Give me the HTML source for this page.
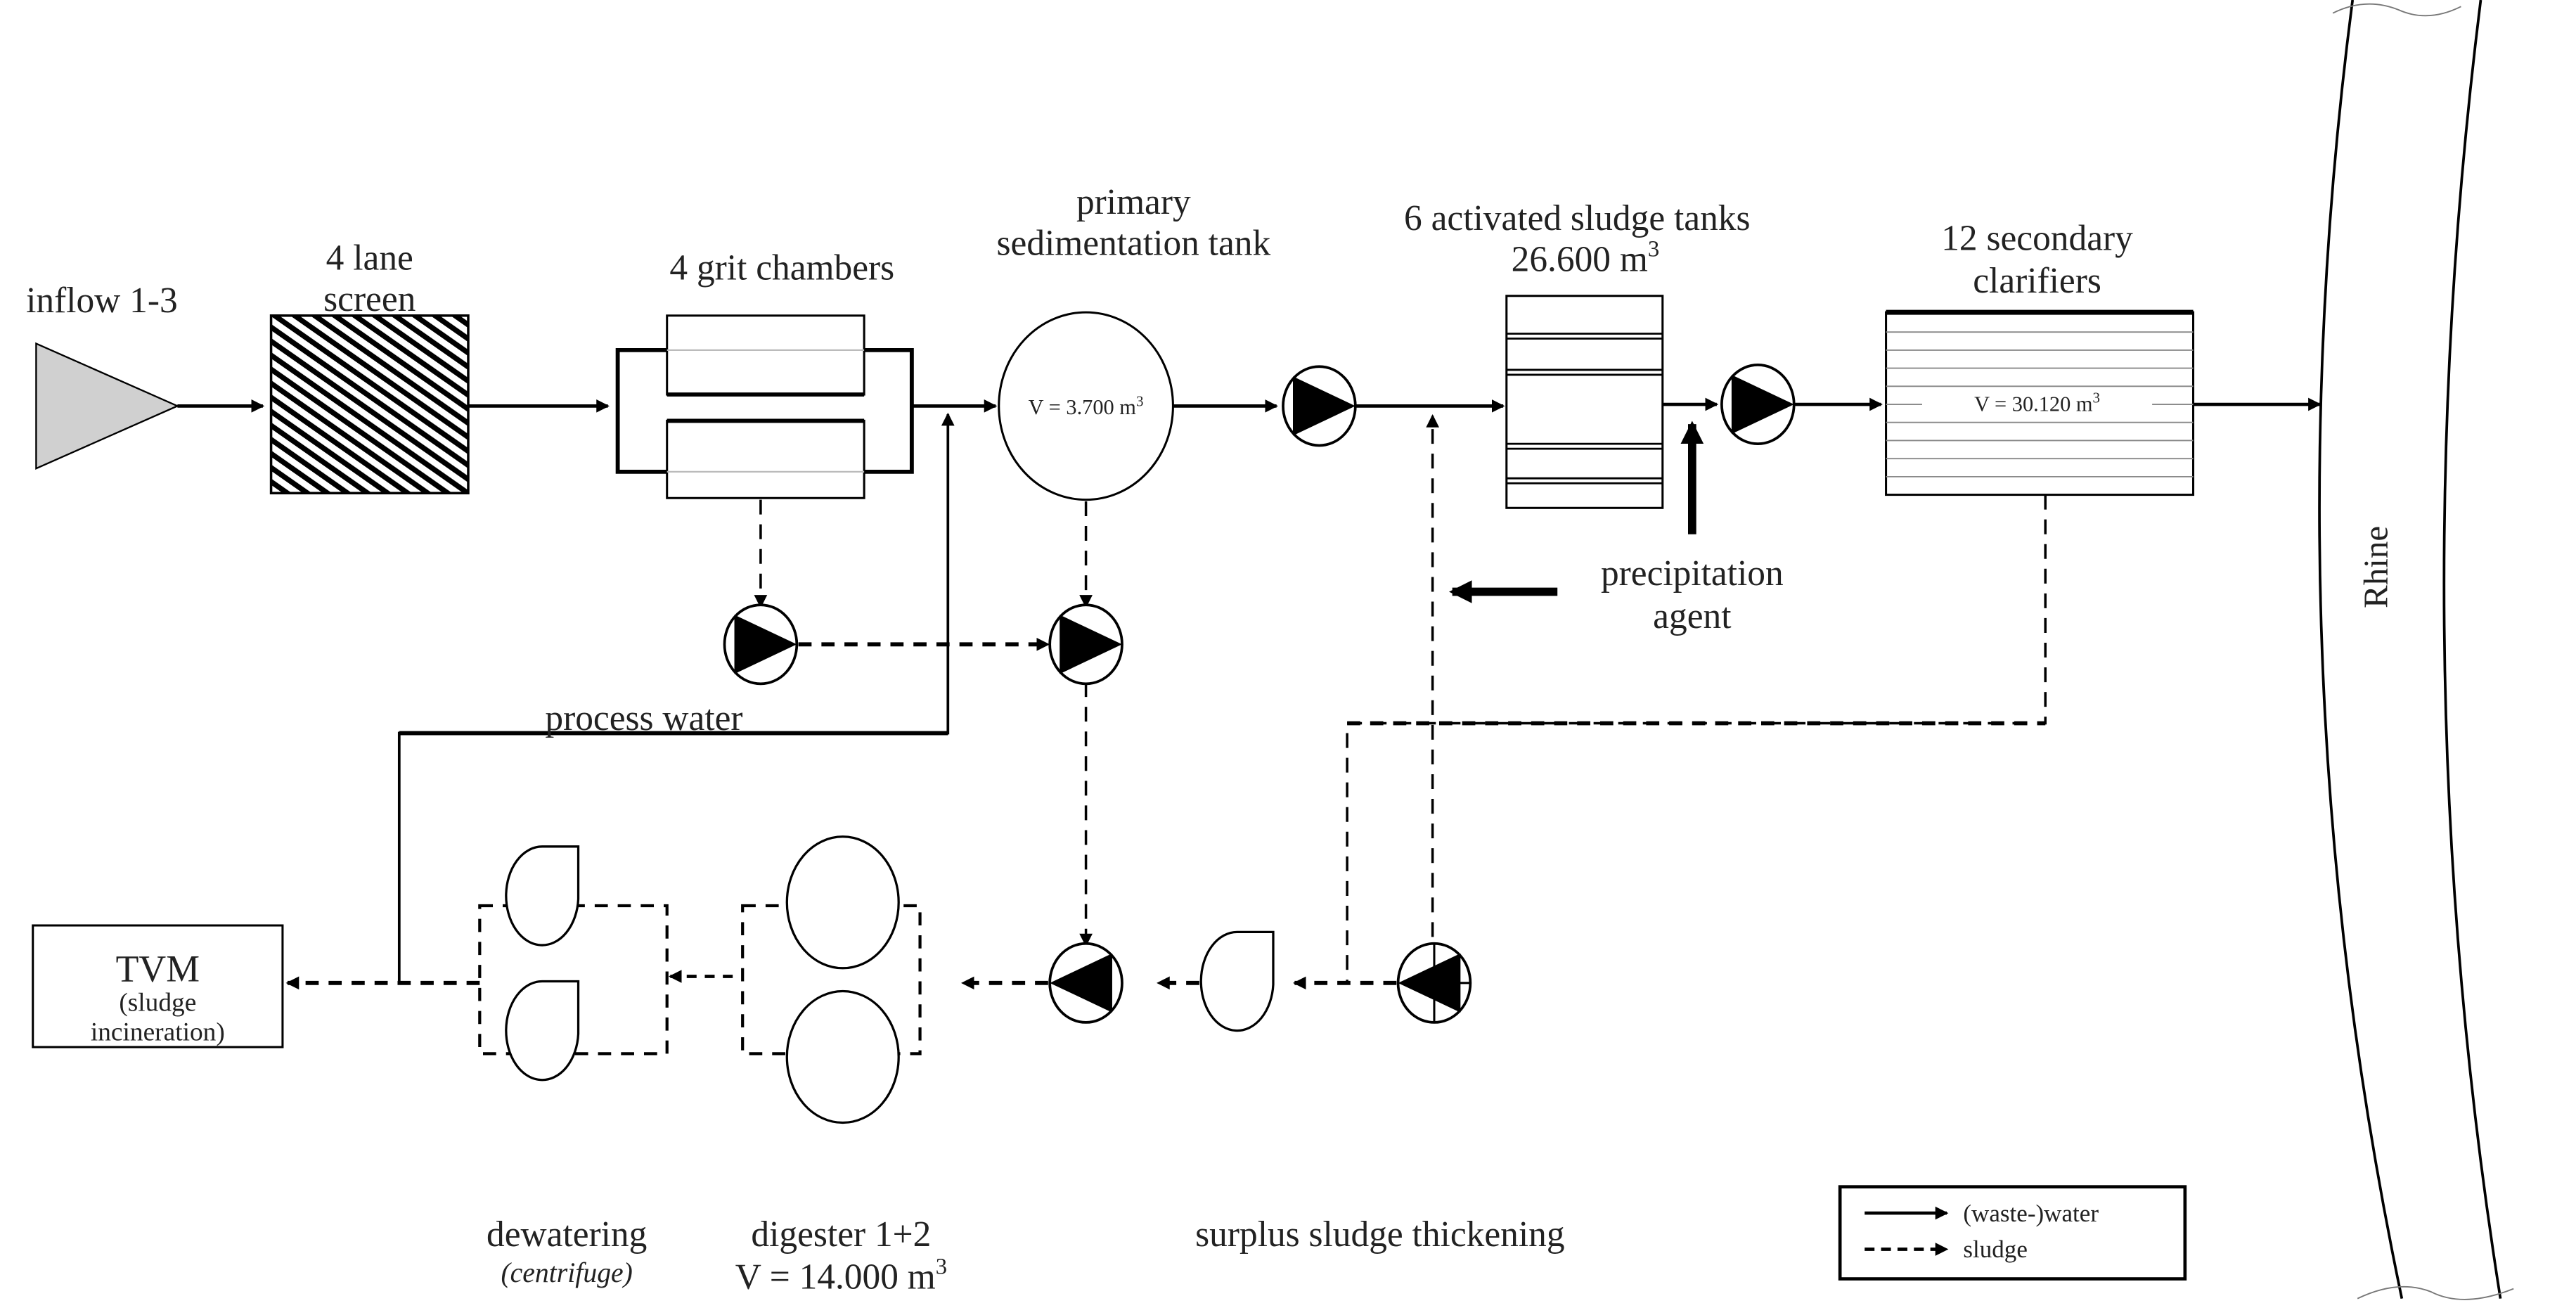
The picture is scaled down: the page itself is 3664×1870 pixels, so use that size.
<!DOCTYPE html>
<html><head><meta charset="utf-8"><style>
html,body{margin:0;padding:0;background:#fff;}
svg{display:block;}
text{font-family:"Liberation Serif",serif;fill:#222;}
</style></head><body>
<svg width="3664" height="1870" viewBox="0 0 1568 800" preserveAspectRatio="none" xmlns="http://www.w3.org/2000/svg">
<defs>
<marker id="ah" markerWidth="8" markerHeight="8" refX="7" refY="4" orient="auto" markerUnits="userSpaceOnUse"><path d="M0,0 L8,4 L0,8 Z" fill="#000"/></marker>
<marker id="ahb" markerWidth="14" markerHeight="14" refX="12" refY="7" orient="auto" markerUnits="userSpaceOnUse"><path d="M0,0 L14,7 L0,14 Z" fill="#000"/></marker>
<pattern id="hatch" width="7" height="7" patternUnits="userSpaceOnUse" patternTransform="rotate(-55)"><rect width="7" height="7" fill="#fff"/><rect width="3.2" height="7" fill="#000"/></pattern>
</defs>
<g stroke="#000" fill="none" stroke-width="1.5">
<polygon points="22,209 108,247 22,285" fill="#d0d0d0" stroke-width="1"/>
<line x1="108" y1="247" x2="160" y2="247" stroke-width="2" marker-end="url(#ah)"/>
<rect x="165" y="192" width="120" height="108" fill="url(#hatch)" stroke-width="1.5"/>
<line x1="285" y1="247" x2="370" y2="247" stroke-width="2" marker-end="url(#ah)"/>
<path d="M406,213 H376 V287 H406 M526,213 H555 V287 H526" stroke-width="2.5"/>
<rect x="406" y="192" width="120" height="48" stroke-width="1.3"/>
<line x1="406" y1="240" x2="526" y2="240" stroke-width="2.5"/>
<rect x="406" y="256" width="120" height="47" stroke-width="1.3"/>
<line x1="406" y1="256" x2="526" y2="256" stroke-width="2.5"/>
<line x1="406" y1="213" x2="526" y2="213" stroke="#bbb" stroke-width="1"/>
<line x1="406" y1="287" x2="526" y2="287" stroke="#bbb" stroke-width="1"/>
<line x1="555" y1="247" x2="606" y2="247" stroke-width="2" marker-end="url(#ah)"/>
<ellipse cx="661" cy="247" rx="53" ry="57" stroke-width="1.3"/>
<line x1="714" y1="247" x2="777" y2="247" stroke-width="2" marker-end="url(#ah)"/>
<path d="M243,598 V446 H577 V252" stroke-width="1.6" marker-end="url(#ah)"/>
<line x1="243" y1="446" x2="577" y2="446" stroke-width="2.5"/>
<line x1="825" y1="247" x2="915" y2="247" stroke-width="2" marker-end="url(#ah)"/>
<line x1="872" y1="600" x2="872" y2="253" stroke-dasharray="9,6" marker-end="url(#ah)"/>
<rect x="917" y="180" width="95" height="129" stroke-width="1.3"/>
<g stroke-width="1.2"><line x1="917" y1="203" x2="1012" y2="203"/><line x1="917" y1="206" x2="1012" y2="206"/>
<line x1="917" y1="225" x2="1012" y2="225"/><line x1="917" y1="228" x2="1012" y2="228"/>
<line x1="917" y1="270" x2="1012" y2="270"/><line x1="917" y1="273" x2="1012" y2="273"/>
<line x1="917" y1="291" x2="1012" y2="291"/><line x1="917" y1="294" x2="1012" y2="294"/></g>
<line x1="1012" y1="246" x2="1045" y2="246" stroke-width="2" marker-end="url(#ah)"/>
<line x1="1030" y1="325" x2="1030" y2="258" stroke-width="5" marker-end="url(#ahb)"/>
<line x1="1092" y1="246" x2="1145" y2="246" stroke-width="2" marker-end="url(#ah)"/>
<rect x="1148" y="190" width="187" height="111" stroke-width="1.3"/>
<line x1="1148" y1="190" x2="1335" y2="190" stroke-width="3"/>
<g stroke="#888" stroke-width="0.8">
<line x1="1148" y1="202" x2="1335" y2="202"/><line x1="1148" y1="213" x2="1335" y2="213"/><line x1="1148" y1="224" x2="1335" y2="224"/><line x1="1148" y1="235" x2="1335" y2="235"/>
<line x1="1148" y1="257" x2="1335" y2="257"/><line x1="1148" y1="268" x2="1335" y2="268"/><line x1="1148" y1="279" x2="1335" y2="279"/><line x1="1148" y1="290" x2="1335" y2="290"/></g>
<line x1="1148" y1="246" x2="1170" y2="246" stroke="#888" stroke-width="0.8"/><line x1="1310" y1="246" x2="1335" y2="246" stroke="#888" stroke-width="0.8"/>
<line x1="1335" y1="246" x2="1412" y2="246" stroke-width="2" marker-end="url(#ah)"/>
<path d="M1432,0 Q1380,400 1462,790" stroke-width="1.6"/>
<path d="M1510,0 Q1460,400 1522,790" stroke-width="1.6"/>
<path d="M1420,8 Q1440,-2 1460,6 Q1478,14 1498,4" stroke-width="0.8" stroke="#777"/>
<path d="M1435,790 Q1460,778 1480,786 Q1500,796 1530,784" stroke-width="0.8" stroke="#777"/>
<line x1="948" y1="360" x2="884" y2="360" stroke-width="5" marker-end="url(#ahb)"/>
<path d="M1245,301 V440 H820 V598" stroke-dasharray="9,6"/>
<line x1="820" y1="440" x2="1245" y2="440" stroke-width="2.5" stroke-dasharray="8,6"/>
<line x1="463" y1="304" x2="463" y2="369" stroke-dasharray="9,6" marker-end="url(#ah)"/>
<line x1="661" y1="305" x2="661" y2="369" stroke-dasharray="9,6" marker-end="url(#ah)"/>
<line x1="486" y1="392" x2="638" y2="392" stroke-width="2.5" stroke-dasharray="8,6" marker-end="url(#ah)"/>
<line x1="661" y1="415" x2="661" y2="575" stroke-dasharray="9,6" marker-end="url(#ah)"/>
<rect x="20" y="563" width="152" height="74" stroke-width="1.3"/>
<line x1="292" y1="598" x2="175" y2="598" stroke-width="2.5" stroke-dasharray="8,6" marker-end="url(#ah)"/>
<path d="M292,551 H406 V641 H292 Z" stroke-dasharray="8,6" stroke-width="1.8"/>
<path d="M452,551 H560 V641 H452 Z" stroke-dasharray="8,6" stroke-width="1.8"/>
<line x1="446" y1="594" x2="408" y2="594" stroke-width="2" stroke-dasharray="6,5" marker-end="url(#ah)"/>
<line x1="638" y1="598" x2="586" y2="598" stroke-width="2.5" stroke-dasharray="8,6" marker-end="url(#ah)"/>
<line x1="730" y1="598" x2="705" y2="598" stroke-width="2.5" stroke-dasharray="8,6" marker-end="url(#ah)"/>
<line x1="850" y1="598" x2="788" y2="598" stroke-width="2.5" stroke-dasharray="8,6" marker-end="url(#ah)"/>
<g fill="#fff" stroke-width="1.4">
<path d="M330,515 H352 V547 A22,30 0 1 1 330,515 Z"/>
<path d="M330,597 H352 V629 A22,30 0 1 1 330,597 Z"/>
<path d="M753,567 H775 V599 A22,30 0 1 1 753,567 Z"/>
<ellipse cx="513" cy="549" rx="34" ry="40"/>
<ellipse cx="513" cy="643" rx="34" ry="40"/>
</g>
<g fill="#fff" stroke-width="1.6">
<ellipse cx="803" cy="247" rx="22" ry="24"/><ellipse cx="1070" cy="246" rx="22" ry="24"/>
<ellipse cx="463" cy="392" rx="22" ry="24"/><ellipse cx="661" cy="392" rx="22" ry="24"/>
<ellipse cx="661" cy="598" rx="22" ry="24"/><ellipse cx="873" cy="598" rx="22" ry="24"/>
</g>
<g fill="#000" stroke="none">
<polygon points="787,229 825,247 787,265"/><polygon points="1054,228 1092,246 1054,264"/>
<polygon points="447,374 485,392 447,410"/><polygon points="645,374 683,392 645,410"/>
<polygon points="677,580 639,598 677,616"/><polygon points="889,580 851,598 889,616"/>
</g>
<line x1="873" y1="574" x2="873" y2="622" stroke-width="1.3"/>
<line x1="873" y1="598" x2="895" y2="598" stroke-width="1.3"/>
<rect x="1120" y="722" width="210" height="56" stroke-width="2"/>
<line x1="1135" y1="738" x2="1185" y2="738" stroke-width="2" marker-end="url(#ah)"/>
<line x1="1135" y1="760" x2="1185" y2="760" stroke-width="2" stroke-dasharray="6,4" marker-end="url(#ah)"/>
</g>
<g font-size="22" text-anchor="middle">
<text x="62" y="190">inflow 1-3</text>
<text x="225" y="164">4 lane</text><text x="225" y="189">screen</text>
<text x="476" y="170">4 grit chambers</text>
<text x="690" y="154" dy="-24">primary</text><text x="690" y="179" dy="-24">sedimentation tank</text>
<text x="960" y="140">6 activated sludge tanks</text><text x="965" y="165">26.600 m<tspan font-size="14" dy="-9">3</tspan></text>
<text x="1240" y="152">12 secondary</text><text x="1240" y="178">clarifiers</text>
<text x="1030" y="356">precipitation</text><text x="1030" y="382">agent</text>
<text x="392" y="444">process water</text>
<text x="345" y="758">dewatering</text>
<text x="345" y="780" font-size="17" font-style="italic">(centrifuge)</text>
<text x="512" y="758">digester 1+2</text><text x="512" y="784">V = 14.000 m<tspan font-size="14" dy="-9">3</tspan></text>
<text x="840" y="758">surplus sludge thickening</text>
<text x="96" y="597" font-size="23">TVM</text>
<text x="96" y="615" font-size="16">(sludge</text><text x="96" y="633" font-size="16">incineration)</text>
<text x="661" y="252" font-size="13">V = 3.700 m<tspan font-size="9" dy="-5">3</tspan></text>
<text x="1240" y="250" font-size="13">V = 30.120 m<tspan font-size="9" dy="-5">3</tspan></text>
<text x="0" y="0" font-size="21" transform="translate(1453,345) rotate(-90)">Rhine</text>
</g>
<g font-size="15"><text x="1195" y="743">(waste-)water</text><text x="1195" y="765">sludge</text></g>
</svg>
</body></html>
